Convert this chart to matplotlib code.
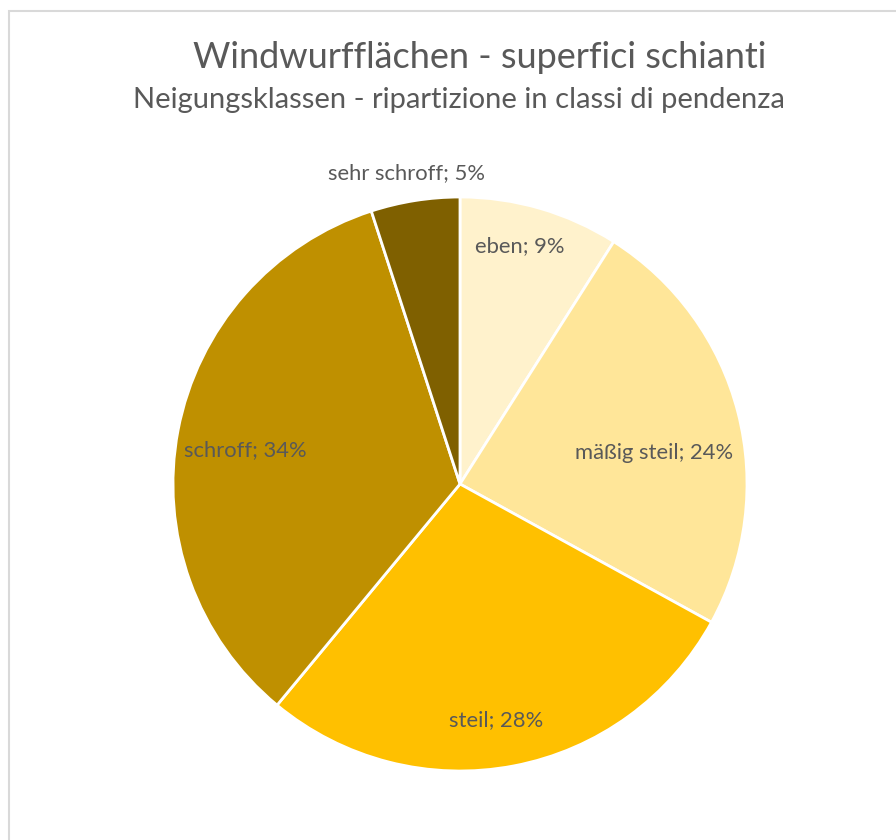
import numpy as np
import matplotlib
matplotlib.use("Agg")
import matplotlib.pyplot as plt
from matplotlib.patches import Rectangle

categories = ["eben", "mäßig steil", "steil", "schroff", "sehr schroff"]
values = [9, 24, 28, 34, 5]
colors = ["#FFF2CC", "#FFE699", "#FFC000", "#BF9000", "#7F6000"]
label_radius = [0.854, 0.685, 0.832, 0.758, 1.10]
label_angle_shift = [2.2, -5.3, -2.1, 1.8, 0.7]
title = "Windwurfflächen - superfici schianti"
subtitle = "Neigungsklassen - ripartizione in classi di pendenza"

plt.rcParams['font.family'] = ['Lato', 'DejaVu Sans']
W, H = 896, 840
fig = plt.figure(figsize=(W / 100, H / 100), dpi=100)
fig.patch.set_facecolor("white")

# border
fig.add_artist(Rectangle((8.5 / W, -0.1), 1.2, 1 - 11.5 / H + 0.1, transform=fig.transFigure,
                         fill=False, edgecolor="#D9D9D9", linewidth=1.5))

cx, cy, r = 460, 484, 287
ax = fig.add_axes([(cx - r) / W, (H - cy - r) / H, 2 * r / W, 2 * r / H])
wedges, _ = ax.pie(values, colors=colors, startangle=90, counterclock=False,
                   wedgeprops=dict(edgecolor="white", linewidth=2.0))
ax.set_xlim(-1, 1)
ax.set_ylim(-1, 1)
ax.set_aspect("equal")
ax.axis("off")

for w, cat, v, lr, da in zip(wedges, categories, values, label_radius, label_angle_shift):
    ang = np.deg2rad((w.theta1 + w.theta2) / 2 + da)
    ax.text(lr * np.cos(ang), lr * np.sin(ang), f"{cat}; {v}%", ha="center", va="center",
            fontsize=15.8, color="#595959")

fig.text(480 / W, 1 - 57 / H, title, ha="center", va="center", fontsize=26, color="#595959")
fig.text(459 / W, 1 - 100 / H, subtitle, ha="center", va="center", fontsize=21, color="#595959")

fig.savefig("out.png", dpi=100)
